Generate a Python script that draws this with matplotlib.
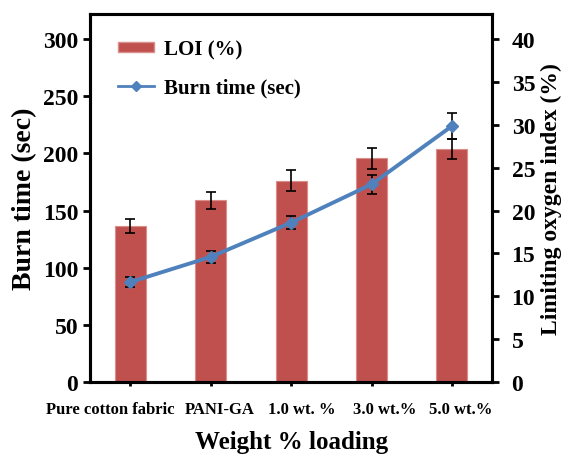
import numpy as np
import matplotlib
matplotlib.use('Agg')
import matplotlib.pyplot as plt
import matplotlib.transforms as mtransforms
from matplotlib.lines import Line2D
from matplotlib.patches import Patch

plt.rcParams['font.family'] = 'Liberation Serif'
plt.rcParams['font.weight'] = 'bold'

categories = ['Pure cotton fabric', 'PANI-GA', '1.0 wt. %', '3.0 wt.%', '5.0 wt.%']
loi = [18.2, 21.2, 23.5, 26.1, 27.2]
loi_err = [0.85, 1.0, 1.2, 1.25, 1.2]
burn_time = [87.5, 109.5, 139.5, 173, 224]
burn_err = [4.5, 5, 6, 8.5, 11]

bar_col = '#C0504D'
line_col = '#4F81BD'

x = np.arange(len(categories))

fig = plt.figure(figsize=(5.67, 4.56), dpi=100)
ax = fig.add_axes([0.159, 0.160, 0.709, 0.807])
ax2 = ax.twinx()

ax2.bar(x, loi, width=0.385, color=bar_col, edgecolor='#D98E8C', linewidth=0.8,
        yerr=loi_err, capsize=3.5, error_kw=dict(ecolor='black', elinewidth=1.2, capthick=1.2))
ax.errorbar(x, burn_time, yerr=burn_err, color=line_col, marker='D', markersize=6,
            linewidth=2.8, ecolor='black', elinewidth=1.2, capsize=3.5, capthick=1.2)

ax.set_zorder(ax2.get_zorder() + 1)
ax.patch.set_visible(False)

ax.set_xlim(-0.5, 4.5)
ax.set_ylim(0, 322)
ax2.set_ylim(0, 322 / 7.5)
ax.set_yticks(np.arange(0, 301, 50))
ax2.set_yticks(np.arange(0, 41, 5))
ax.set_xticks(x)
ax.set_xticklabels(categories, fontsize=12, fontweight='bold')
ax.tick_params(axis='y', labelsize=17, width=2, length=5, direction='out')
ax.tick_params(axis='x', width=2, length=3, direction='out', pad=11)
ax2.tick_params(axis='y', labelsize=17, width=2, length=5, direction='out', pad=9)
for lab in ax.get_yticklabels():
    lab.set_fontweight('bold')

# shift x tick labels slightly like the original layout
shifts = [-20, 9, 11, 13, 9]
for lab, dx in zip(ax.get_xticklabels(), shifts):
    lab.set_transform(lab.get_transform() + mtransforms.ScaledTranslation(dx / 100, 0, fig.dpi_scale_trans))

for a in (ax, ax2):
    for s in a.spines.values():
        s.set_linewidth(2.2)

ax.set_ylabel('Burn time (sec)', fontsize=20, fontweight='bold', labelpad=4)
ax2.set_ylabel('Limiting oxygen index (%)', fontsize=17, fontweight='bold', labelpad=4)
ax.set_xlabel('Weight % loading', fontsize=18, fontweight='bold', labelpad=9)

handles = [Patch(facecolor=bar_col, edgecolor='#D98E8C'),
           Line2D([], [], color=line_col, marker='D', markersize=5, linewidth=2)]
ax.legend(handles, ['LOI (%)', 'Burn time (sec)'], loc='upper left',
          bbox_to_anchor=(0.022, 0.982), frameon=False, prop={'size': 15, 'weight': 'bold'},
          handlelength=1.75, handleheight=0.4, handletextpad=0.45, labelspacing=0.85)

fig.savefig('out.png', dpi=100)
